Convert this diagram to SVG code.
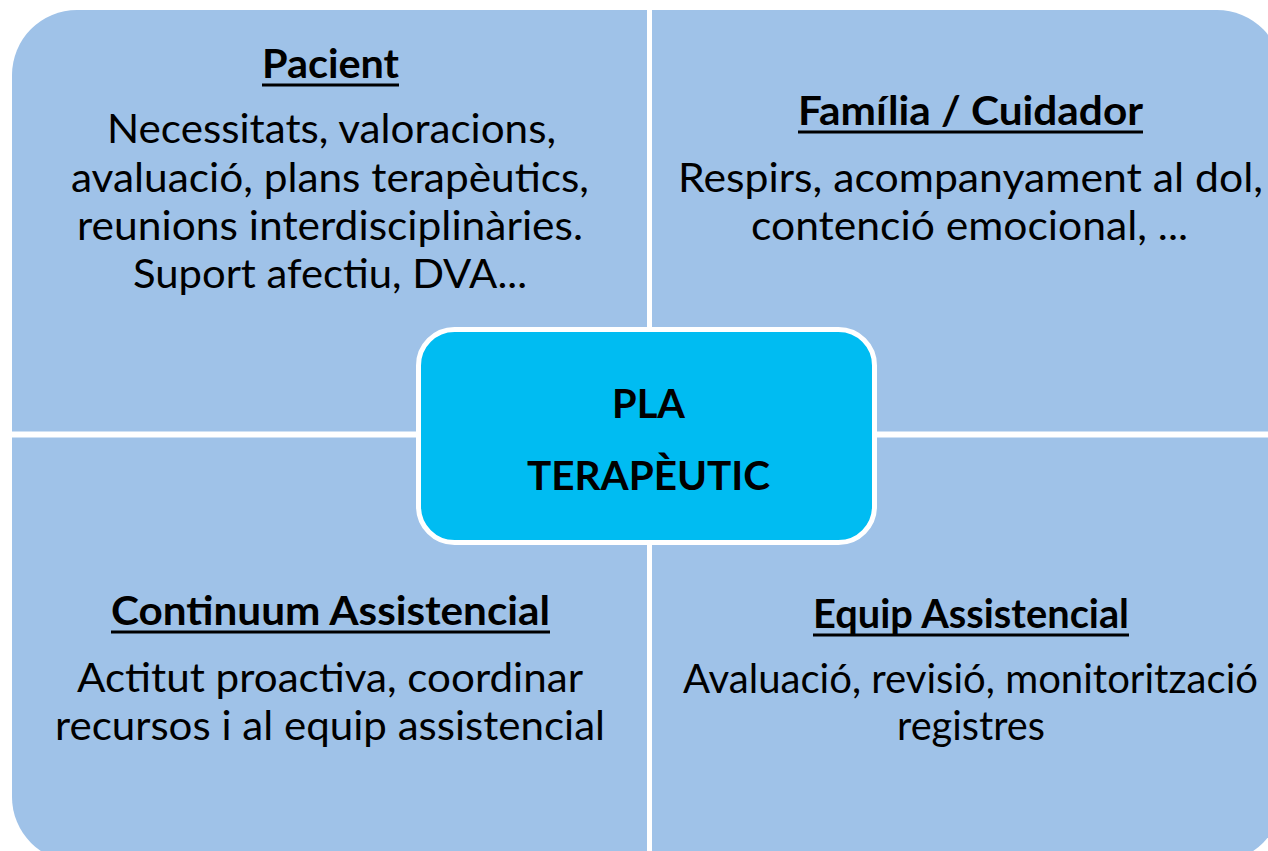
<svg xmlns="http://www.w3.org/2000/svg" width="1268" height="851" viewBox="0 0 1268 851">
  <style>
    .bg { fill: #9FC2E8; }
    .div { stroke: #FFFFFF; stroke-width: 5; fill: none; }
    .center { fill: #00BCF2; stroke: #FFFFFF; stroke-width: 5; }
    .h { font-family: "Lato", "Liberation Sans", sans-serif; font-weight: bold; font-size: 40px; fill: #000; text-anchor: middle; }
    .t { font-family: "Lato", "Liberation Sans", sans-serif; font-size: 40px; fill: #000; text-anchor: middle; }
    .c { font-family: "Lato", "Liberation Sans", sans-serif; font-weight: bold; font-size: 40px; fill: #000; text-anchor: middle; }
    .ul { stroke: #000; stroke-width: 3; }
  </style>
  <rect width="1268" height="851" fill="#FFFFFF"/>
  <rect class="bg" x="12" y="10" width="1270" height="852" rx="65" ry="65"/>
  <g id="connectors">
    <line class="div" x1="649.5" y1="0" x2="649.5" y2="851"/>
    <line class="div" x1="0" y1="434.5" x2="1268" y2="434.5" style="stroke-width:6"/>
  </g>
  <g id="pacient">
    <text class="h" x="330.5" y="78" textLength="137" lengthAdjust="spacingAndGlyphs">Pacient</text>
    <line class="ul" x1="262" y1="85" x2="399" y2="85"/>
    <text class="t" x="331.5" y="143" textLength="449" lengthAdjust="spacingAndGlyphs">Necessitats, valoracions,</text>
    <text class="t" x="330" y="192" textLength="518" lengthAdjust="spacingAndGlyphs">avaluació, plans terapèutics,</text>
    <text class="t" x="330" y="240" textLength="506" lengthAdjust="spacingAndGlyphs">reunions interdisciplinàries.</text>
    <text class="t" x="330" y="288" textLength="394" lengthAdjust="spacingAndGlyphs">Suport afectiu, DVA...</text>
  </g>
  <g id="familia">
    <text class="h" x="970.5" y="125" textLength="345" lengthAdjust="spacingAndGlyphs">Família / Cuidador</text>
    <line class="ul" x1="798" y1="132" x2="1143" y2="132"/>
    <text class="t" x="970.5" y="192" textLength="585" lengthAdjust="spacingAndGlyphs">Respirs, acompanyament al dol,</text>
    <text class="t" x="969.5" y="240" textLength="437" lengthAdjust="spacingAndGlyphs">contenció emocional, ...</text>
  </g>
  <g id="continuum">
    <text class="h" x="330.5" y="625" textLength="439" lengthAdjust="spacingAndGlyphs">Continuum Assistencial</text>
    <line class="ul" x1="111" y1="632" x2="550" y2="632"/>
    <text class="t" x="330" y="692" textLength="506" lengthAdjust="spacingAndGlyphs">Actitut proactiva, coordinar</text>
    <text class="t" x="330" y="740" textLength="550" lengthAdjust="spacingAndGlyphs">recursos i al equip assistencial</text>
  </g>
  <g id="equip">
    <text class="h" x="971" y="628" textLength="316" lengthAdjust="spacingAndGlyphs">Equip Assistencial</text>
    <line class="ul" x1="813" y1="635" x2="1129" y2="635"/>
    <text class="t" x="970.5" y="693" textLength="575" lengthAdjust="spacingAndGlyphs">Avaluació, revisió, monitorització</text>
    <text class="t" x="971" y="740" textLength="148" lengthAdjust="spacingAndGlyphs">registres</text>
  </g>
  <g id="pla-terapeutic">
    <rect class="center" x="418.5" y="329.5" width="456" height="213" rx="36" ry="36"/>
    <text class="c" x="648.5" y="418" textLength="73" lengthAdjust="spacingAndGlyphs">PLA</text>
    <text class="c" x="648.5" y="490" textLength="243" lengthAdjust="spacingAndGlyphs">TERAPÈUTIC</text>
  </g>
</svg>
